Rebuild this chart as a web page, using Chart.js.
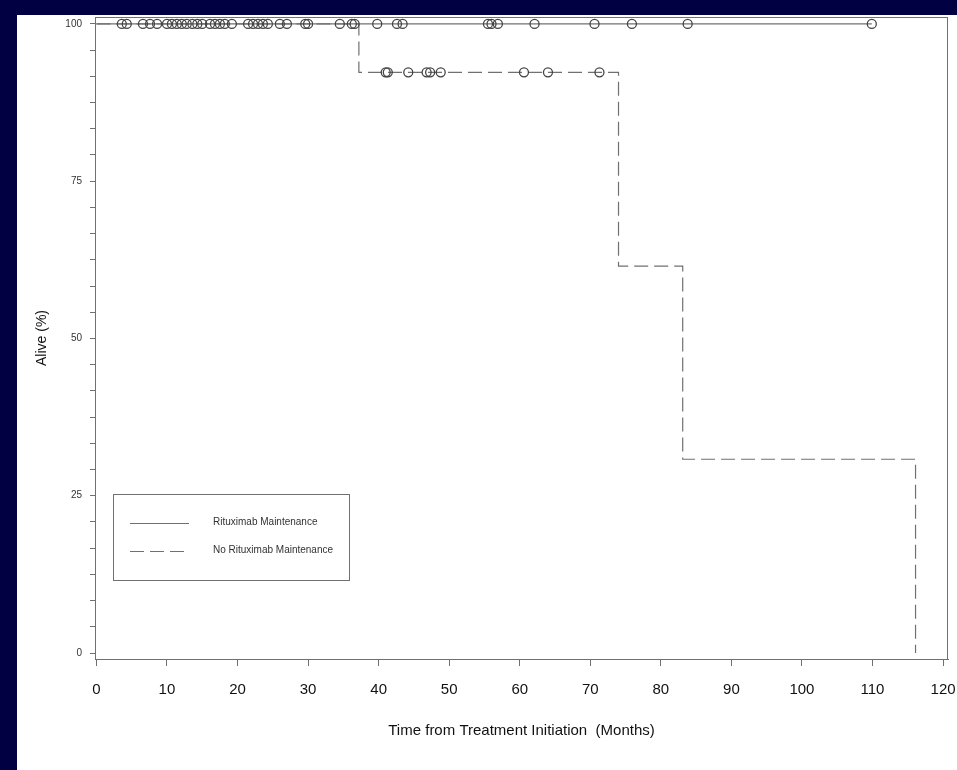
<!DOCTYPE html>
<html>
<head>
<meta charset="utf-8">
<script src="https://cdn.jsdelivr.net/npm/chart.js@4.4.0/dist/chart.umd.min.js"></script>
<style>
    body { margin: 0; background: #000042; }
    #wrap { width: 957px; height: 770px; }
</style>
</head>
<body>
<div id="wrap"><canvas id="km" width="957" height="770"></canvas></div>
<script>
// Kaplan-Meier steps (months, % alive)
const ritTimes = [0, 109.9];
const ritSurv = [100, 100];
const noRitTimes = [0, 37.2, 74.0, 83.1, 116.1];
const noRitSurv = [100, 92.3, 61.5, 30.8, 0];

// censored observations (months)
const ritCensor = [3.6, 4.3, 6.6, 7.6, 8.6, 10.0, 10.7, 11.4, 12.1, 12.8, 13.6, 14.3, 15.0,
    16.1, 16.8, 17.5, 18.2, 19.2, 21.5, 22.2, 22.9, 23.6, 24.3, 26.0, 27.0, 29.6, 30.0,
    34.5, 36.2, 36.6, 39.8, 42.6, 43.4, 55.5, 56.0, 56.9, 62.1, 70.6, 75.9, 83.8, 109.9];
const noRitCensor = [41.0, 41.3, 44.2, 46.8, 47.3, 48.8, 60.6, 64.0, 71.3];

const seriesNames = ['Rituximab Maintenance', 'No Rituximab Maintenance'];
const xTicks = [0, 10, 20, 30, 40, 50, 60, 70, 80, 90, 100, 110, 120];
const yMajor = [0, 25, 50, 75, 100];

const FONT = "'Liberation Sans', Arial, sans-serif";
const GREY = '#707070';

function steps(times, surv) {
    return times.map((t, i) => ({ x: t, y: surv[i] }));
}

// survival level at time t, used to place censor marks on their curve
function levelAt(times, surv, t) {
    let s = surv[0];
    for (let i = 0; i < times.length; i++) {
        if (times[i] <= t) s = surv[i];
    }
    return s;
}

const backdrop = {
    id: 'backdrop',
    beforeDraw(chart) {
        const ctx = chart.ctx;
        ctx.save();
        ctx.fillStyle = '#000042';
        ctx.fillRect(0, 0, chart.width, chart.height);
        ctx.fillStyle = '#ffffff';
        ctx.fillRect(17, 15, chart.width - 17, chart.height - 15);
        ctx.restore();
    }
};

// top and right frame lines plus the boxed legend
const frameAndLegend = {
    id: 'frameAndLegend',
    afterDraw(chart) {
        const ctx = chart.ctx;
        const a = chart.chartArea;
        ctx.save();
        ctx.strokeStyle = GREY;
        ctx.lineWidth = 1;
        ctx.strokeRect(Math.round(a.left) + 0.5, Math.round(a.top) + 0.5,
            Math.round(a.right - a.left) - 1, Math.round(a.bottom - a.top));

        ctx.strokeRect(113.5, 494.5, 236, 86);
        const rows = [523.5, 551.5];
        chart.data.datasets.slice(0, 2).forEach((ds, i) => {
            ctx.beginPath();
            ctx.setLineDash(ds.borderDash || []);
            ctx.strokeStyle = ds.borderColor;
            ctx.moveTo(130, rows[i]);
            ctx.lineTo(189, rows[i]);
            ctx.stroke();
            ctx.setLineDash([]);
            ctx.fillStyle = '#333';
            ctx.font = '10px ' + FONT;
            ctx.textBaseline = 'middle';
            ctx.fillText(ds.label, 213, rows[i] - 1);
        });
        ctx.restore();
    }
};

const ctx = document.getElementById('km').getContext('2d');
new Chart(ctx, {
    type: 'line',
    data: {
        datasets: [
            {
                label: seriesNames[0],
                data: steps(ritTimes, ritSurv),
                stepped: 'before',
                borderColor: GREY,
                borderWidth: 1.2,
                pointRadius: 0,
                fill: false,
                order: 4
            },
            {
                label: seriesNames[1],
                data: steps(noRitTimes, noRitSurv),
                stepped: 'before',
                borderColor: GREY,
                borderWidth: 1.2,
                borderDash: [14, 6],
                pointRadius: 0,
                fill: false,
                order: 3
            },
            {
                type: 'scatter',
                label: 'censored 1',
                data: ritCensor.map(t => ({ x: t, y: levelAt(ritTimes, ritSurv, t) })),
                pointStyle: 'circle',
                pointRadius: 4.5,
                backgroundColor: 'rgba(255,255,255,0)',
                borderColor: '#444',
                borderWidth: 1.3,
                order: 2
            },
            {
                type: 'scatter',
                label: 'censored 2',
                data: noRitCensor.map(t => ({ x: t, y: levelAt(noRitTimes, noRitSurv, t) })),
                pointStyle: 'circle',
                pointRadius: 4.5,
                backgroundColor: 'rgba(255,255,255,0)',
                borderColor: '#444',
                borderWidth: 1.3,
                order: 1
            }
        ]
    },
    options: {
        responsive: false,
        animation: false,
        clip: false,
        layout: { padding: { left: 17, top: 17, right: 9, bottom: 0 } },
        plugins: {
            legend: { display: false },
            tooltip: { enabled: false }
        },
        scales: {
            x: {
                type: 'linear',
                min: -0.2,
                max: 120.7,
                afterBuildTicks: scale => {
                    scale.ticks = xTicks.map(v => ({ value: v }));
                },
                afterFit: scale => {
                    scale.height = 111;
                    scale.paddingLeft = 0;
                    scale.paddingRight = 0;
                },
                grid: { drawOnChartArea: false, color: GREY, tickLength: 7 },
                border: { display: true, color: GREY },
                ticks: {
                    padding: 15,
                    maxRotation: 0,
                    autoSkip: false,
                    color: '#111',
                    font: { family: FONT, size: 15 }
                },
                title: {
                    display: true,
                    text: 'Time from Treatment Initiation  (Months)',
                    color: '#111',
                    font: { family: FONT, size: 15 },
                    padding: { top: 0, bottom: 30 }
                }
            },
            y: {
                type: 'linear',
                min: -0.95,
                max: 101.1,
                afterBuildTicks: scale => {
                    const t = [];
                    for (let i = 0; i <= 24; i++) t.push({ value: i * 25 / 6 });
                    scale.ticks = t;
                },
                afterFit: scale => {
                    scale.width = 78;
                    scale.paddingTop = 0;
                    scale.paddingBottom = 0;
                },
                grid: { drawOnChartArea: false, color: GREY, tickLength: 5 },
                border: { display: true, color: GREY },
                ticks: {
                    padding: 8,
                    autoSkip: false,
                    color: '#333',
                    font: { family: FONT, size: 10 },
                    callback: v => {
                        const hit = yMajor.find(m => Math.abs(m - v) < 1e-6);
                        return hit === undefined ? '' : String(hit);
                    }
                },
                title: {
                    display: true,
                    text: 'Alive (%)',
                    color: '#111',
                    font: { family: FONT, size: 14 },
                    padding: { top: 17, bottom: 0 }
                }
            }
        }
    },
    plugins: [backdrop, frameAndLegend]
});
</script>
</body>
</html>
